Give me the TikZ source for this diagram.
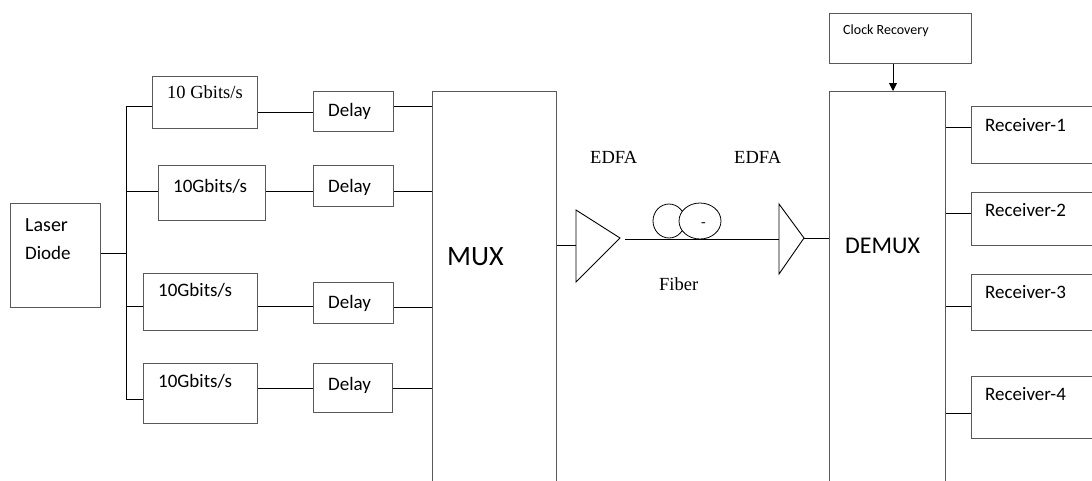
\documentclass[tikz,border=0pt]{standalone}
\usepackage{fontspec}
\setmainfont{Liberation Serif}
\newfontfamily\calfont{Carlito}
\usetikzlibrary{arrows.meta}
\tikzset{
  box/.style={draw=black!65, line width=1pt, anchor=north west, inner sep=0pt, fill=white},
  lbl/.style={anchor=base west, inner sep=0pt, text=black},
  wire/.style={draw=black, line width=0.9pt},
}
\begin{document}
\begin{tikzpicture}[x=1pt,y=-1pt]
\useasboundingbox (0,0) rectangle (1092,480);
\clip (0,0) rectangle (1092,480);
% boxes
\node[box, minimum width=90pt, minimum height=104pt] (ld) at (10,203) {};
\node[box, minimum width=105pt, minimum height=52pt] (b1) at (152,76) {};
\node[box, minimum width=107pt, minimum height=55pt] (b2) at (158,165) {};
\node[box, minimum width=114pt, minimum height=57pt] (b3) at (143,273) {};
\node[box, minimum width=114pt, minimum height=60pt] (b4) at (143,363) {};
\node[box, minimum width=80pt, minimum height=40pt] (d1) at (313,91) {};
\node[box, minimum width=80pt, minimum height=41pt] (d2) at (313,165) {};
\node[box, minimum width=80pt, minimum height=41pt] (d3) at (313,282) {};
\node[box, minimum width=79pt, minimum height=49pt] (d4) at (313,363) {};
\node[box, minimum width=124pt, minimum height=400pt] (mux) at (432,91) {};
\node[box, minimum width=116pt, minimum height=400pt] (demux) at (829,91) {};
\node[box, minimum width=142pt, minimum height=50pt] (clk) at (829,13) {};
\node[box, minimum width=130pt, minimum height=57pt] (r1) at (971,106) {};
\node[box, minimum width=130pt, minimum height=53pt] (r2) at (971,192) {};
\node[box, minimum width=130pt, minimum height=56pt] (r3) at (971,274) {};
\node[box, minimum width=130pt, minimum height=62pt] (r4) at (971,376) {};
% texts
\node[lbl, font=\calfont\fontsize{20}{20}\selectfont] (tlaser) at (25,231) {Laser};
\node[lbl, font=\calfont\fontsize{19}{19}\selectfont] (tdiode) at (25,259) {Diode};
\node[lbl, font=\fontsize{18.5}{18.5}\selectfont] (t1) at (167,98) {10 Gbits/s};
\node[lbl, font=\calfont\fontsize{19}{19}\selectfont] (t2) at (173,192) {10Gbits/s};
\node[lbl, font=\calfont\fontsize{19}{19}\selectfont] (t3) at (158,296) {10Gbits/s};
\node[lbl, font=\calfont\fontsize{19}{19}\selectfont] (t4) at (158,387) {10Gbits/s};
\node[lbl, font=\calfont\fontsize{19}{19}\selectfont] (td1) at (328,116) {Delay};
\node[lbl, font=\calfont\fontsize{19}{19}\selectfont] (td2) at (328,192) {Delay};
\node[lbl, font=\calfont\fontsize{19}{19}\selectfont] (td3) at (328,308) {Delay};
\node[lbl, font=\calfont\fontsize{19}{19}\selectfont] (td4) at (328,390) {Delay};
\node[lbl, font=\calfont\fontsize{28}{28}\selectfont] (tmux) at (447,265) {MUX};
\node[lbl, font=\calfont\fontsize{24}{24}\selectfont] (tdemux) at (845,253) {DEMUX};
\node[lbl, font=\calfont\fontsize{14}{14}\selectfont] (tclk) at (843,34) {Clock Recovery};
\node[lbl, font=\calfont\fontsize{19}{19}\selectfont] (tr1) at (985,131) {Receiver-1};
\node[lbl, font=\calfont\fontsize{19}{19}\selectfont] (tr2) at (985,216) {Receiver-2};
\node[lbl, font=\calfont\fontsize{19}{19}\selectfont] (tr3) at (985,298) {Receiver-3};
\node[lbl, font=\calfont\fontsize{19}{19}\selectfont] (tr4) at (985,400) {Receiver-4};
\node[lbl, font=\fontsize{18.5}{18.5}\selectfont] (te1) at (590,163) {EDFA};
\node[lbl, font=\fontsize{18.5}{18.5}\selectfont] (te2) at (734,163) {EDFA};
\node[lbl, font=\fontsize{18.5}{18.5}\selectfont] (tfib) at (659,290) {Fiber};
% laser to bus
\coordinate (bus) at (126,253);
\draw[wire] (ld.east |- bus) -- (bus);
\draw[wire] (126,106) -- (126,399);
\draw[wire] (126,106) -- (b1.west |- 0,106);
\draw[wire] (126,191) -- (b2.west |- 0,191);
\draw[wire] (126,306) -- (b3.west |- 0,306);
\draw[wire] (126,399) -- (b4.west |- 0,399);
% boxes to delays
\draw[wire] (b1.east |- 0,112) -- (d1.west |- 0,112);
\draw[wire] (b2.east |- 0,191) -- (d2.west |- 0,191);
\draw[wire] (b3.east |- 0,306) -- (d3.west |- 0,306);
\draw[wire] (b4.east |- 0,388) -- (d4.west |- 0,388);
% delays to mux
\draw[wire] (d1.east |- 0,106) -- (mux.west |- 0,106);
\draw[wire] (d2.east |- 0,191) -- (mux.west |- 0,191);
\draw[wire] (d3.east |- 0,307) -- (mux.west |- 0,307);
\draw[wire] (d4.east |- 0,388) -- (mux.west |- 0,388);
% EDFA 1
\coordinate (e1in) at (576,245);
\coordinate (e1tip) at (620,238);
\draw[wire] (mux.east |- e1in) -- (e1in);
\draw[wire] (576,210) -- (e1tip) -- (576,282) -- cycle;
% fiber
\coordinate (f1) at (625,239);
\coordinate (e2in) at (779,239);
\draw[wire] (f1) -- (e2in);
\draw[black, line width=0.8pt] (669,221) ellipse [x radius=16, y radius=17];
\draw[black, line width=0.8pt, fill=white] (700,221) ellipse [x radius=21, y radius=18];
\node[lbl, font=\fontsize{14}{14}\selectfont] (dash) at (701,226) {-};
% EDFA 2
\coordinate (e2tip) at (804,238);
\draw[wire] (779,204) -- (e2tip) -- (779,274) -- cycle;
\draw[wire] (e2tip) -- (demux.west |- e2tip);
% clock arrow
\draw[wire, -{Triangle[width=8pt,length=8pt]}] (clk.south -| 893,0) -- (demux.north -| 893,0);
% demux to receivers
\draw[wire] (demux.east |- 0,127) -- (r1.west |- 0,127);
\draw[wire] (demux.east |- 0,213) -- (r2.west |- 0,213);
\draw[wire] (demux.east |- 0,306) -- (r3.west |- 0,306);
\draw[wire] (demux.east |- 0,413) -- (r4.west |- 0,413);
\end{tikzpicture}
\end{document}
